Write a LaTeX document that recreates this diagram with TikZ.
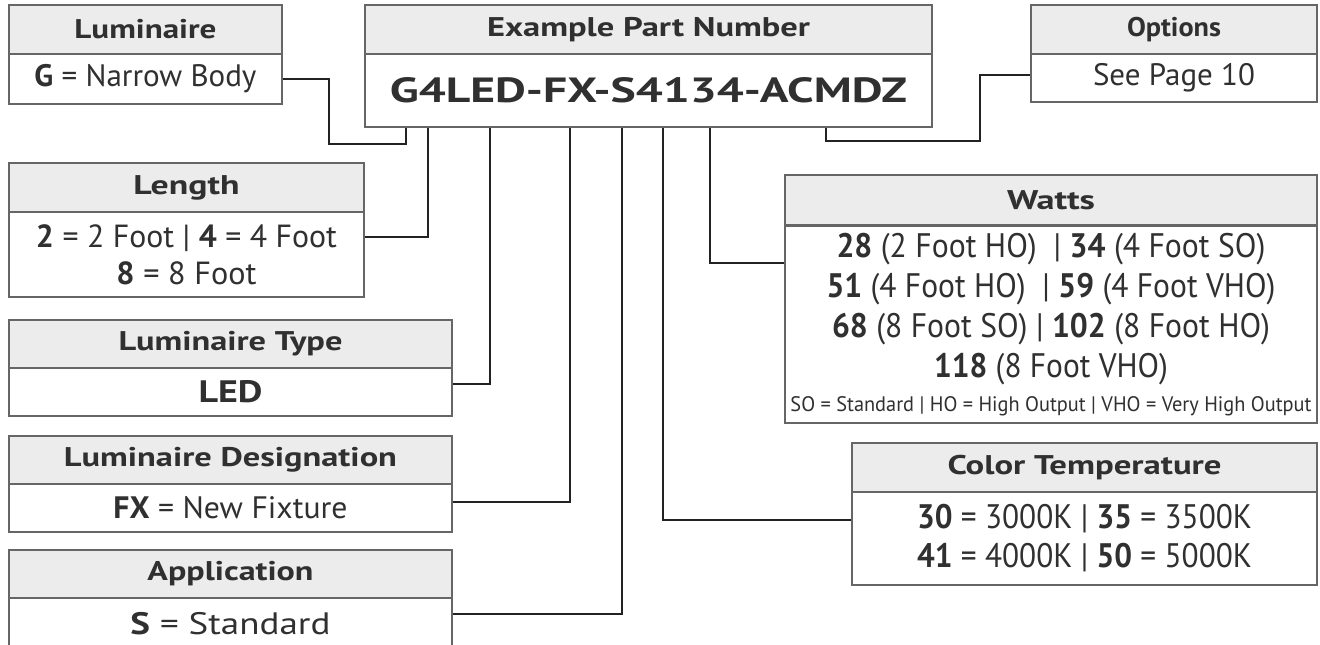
\documentclass[tikz,border=0pt]{standalone}
\usepackage{fontspec}
\setmainfont{PT Sans}
\usepackage{graphicx}
\newcommand\fitw[2]{\resizebox{#1pt}{\height}{#2}}
\definecolor{txt}{HTML}{303030}
\definecolor{hdrfill}{HTML}{ECECEC}
\definecolor{boxline}{HTML}{666666}
\definecolor{connc}{HTML}{222222}
\tikzset{
  hdr/.style={draw=boxline, line width=1.2pt, fill=hdrfill, text=txt, inner sep=0pt,
    font=\fontsize{27}{30}\selectfont\bfseries},
  bdy/.style={draw=boxline, line width=1.2pt, fill=white, text=txt, inner sep=0pt, align=center,
    font=\fontsize{31}{38}\selectfont},
  conn/.style={draw=connc, line width=1.6pt},
}
\begin{document}
\begin{tikzpicture}[x=1pt,y=-1pt]
\useasboundingbox (0,0) rectangle (1320,645);
% Luminaire
\node[hdr, minimum width=273pt, minimum height=49pt] (lumh) at (145.5,29.5) {\fitw{142}{Luminaire}};
\node[bdy, minimum width=273pt, minimum height=50pt] (lumb) at (145.5,79) {\fitw{222}{\textbf{G} = Narrow Body}};
% Example part number
\node[hdr, minimum width=567pt, minimum height=49pt] (epnh) at (648.5,29.5) {\fitw{323}{Example Part Number}};
\node[bdy, minimum width=567pt, minimum height=73pt, font=\fontsize{35}{38}\selectfont\bfseries] (epnb) at (648.5,90.5) {\fitw{517}{G4LED-FX-S4134-ACMDZ}};
% Options
\node[hdr, minimum width=286pt, minimum height=49pt] (opth) at (1174,29.5) {\fitw{94}{Options}};
\node[bdy, minimum width=286pt, minimum height=48pt] (optb) at (1174,78) {\fitw{162}{See Page 10}};
% Length
\node[hdr, minimum width=355pt, minimum height=49pt] (lenh) at (186.5,187.5) {\fitw{106}{Length}};
\node[bdy, minimum width=355pt, minimum height=85pt, font=\fontsize{32}{37}\selectfont] (lenb) at (186.5,254.5)
  {\fitw{301}{\textbf{2} = 2 Foot | \textbf{4} = 4 Foot}\\\fitw{140}{\textbf{8} = 8 Foot}};
% Luminaire type
\node[hdr, minimum width=443pt, minimum height=48pt] (typh) at (230.5,344) {\fitw{224}{Luminaire Type}};
\node[bdy, minimum width=443pt, minimum height=48pt] (typb) at (230.5,392) {\fitw{64}{\textbf{LED}}};
% Luminaire designation
\node[hdr, minimum width=443pt, minimum height=48pt] (desh) at (230.5,460) {\fitw{333}{Luminaire Designation}};
\node[bdy, minimum width=443pt, minimum height=48pt] (desb) at (230.5,508) {\fitw{234}{\textbf{FX} = New Fixture}};
% Application
\node[hdr, minimum width=443pt, minimum height=48pt] (apph) at (230.5,574) {\fitw{166}{Application}};
\node[bdy, minimum width=443pt, minimum height=52pt] (appb) at (230.5,624) {\fitw{200}{\textbf{S} = Standard}};
% Watts
\node[hdr, minimum width=532pt, minimum height=50pt] (wath) at (1051,200) {\fitw{88}{Watts}};
\node[bdy, minimum width=532pt, minimum height=197pt, font=\fontsize{34}{40}\selectfont] (watb) at (1051,324.5)
  {\fitw{429}{\textbf{28} (2 Foot HO) \ | \textbf{34} (4 Foot SO)}\\
   \fitw{449}{\textbf{51} (4 Foot HO) \ | \textbf{59} (4 Foot VHO)}\\
   \fitw{438}{\textbf{68} (8 Foot SO) | \textbf{102} (8 Foot HO)}\\
   \fitw{234}{\textbf{118} (8 Foot VHO)}\\[-6pt]
   {\fontsize{21}{22}\selectfont\fitw{521}{SO = Standard | HO = High Output | VHO = Very High Output}}};
% Color temperature
\node[hdr, minimum width=465pt, minimum height=49pt] (cth) at (1084.5,467.5) {\fitw{274}{Color Temperature}};
\node[bdy, minimum width=465pt, minimum height=93pt, font=\fontsize{34}{39}\selectfont] (ctb) at (1084.5,538.5)
  {\fitw{335}{\textbf{30} = 3000K | \textbf{35} = 3500K}\\\fitw{335}{\textbf{41} = 4000K | \textbf{50} = 5000K}};
% connector start points on the part number box
\coordinate (p1) at (epnb.south -| 406,0);
\coordinate (p2) at (epnb.south -| 428,0);
\coordinate (p3) at (epnb.south -| 490,0);
\coordinate (p4) at (epnb.south -| 570,0);
\coordinate (p5) at (epnb.south -| 622,0);
\coordinate (p6) at (epnb.south -| 663,0);
\coordinate (p7) at (epnb.south -| 710,0);
\coordinate (p8) at (epnb.south -| 826,0);
% connectors
\draw[conn] (lumb.east) -| (329,144) -| (p1);
\draw[conn] (p2) |- (lenb.east |- 0,237);
\draw[conn] (p3) |- (typb.east |- 0,384);
\draw[conn] (p4) |- (desb.east |- 0,502);
\draw[conn] (p5) |- (appb.east |- 0,614);
\draw[conn] (p6) |- (ctb.west |- 0,520);
\draw[conn] (p7) |- (watb.west |- 0,263);
\draw[conn] (p8) |- (980,141) |- (optb.west |- 0,75);
\end{tikzpicture}
\end{document}
